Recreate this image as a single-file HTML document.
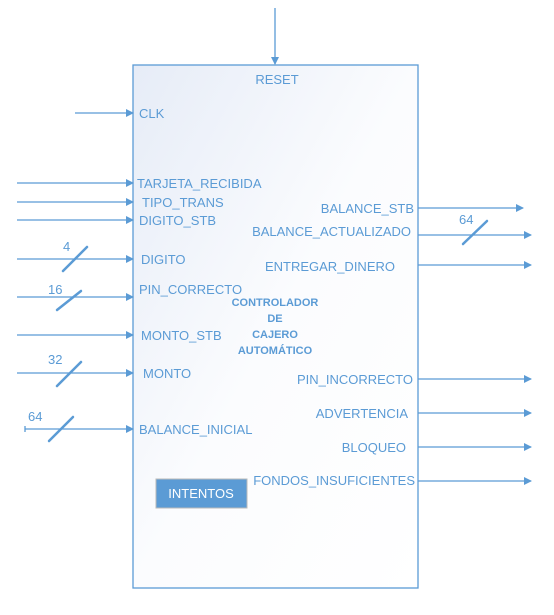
<!DOCTYPE html>
<html><head><meta charset="utf-8"><style>
body{margin:0;background:#fff;width:554px;height:610px;overflow:hidden}
text{font-family:"Liberation Sans",sans-serif;fill:#5b9bd5;font-size:13px}
</style></head><body>
<svg width="554" height="610">
<defs>
<linearGradient id="g" x1="0" y1="0" x2="1" y2="1"><stop offset="0" stop-color="#e6ecf7"/><stop offset="0.5" stop-color="#fbfcfe"/><stop offset="1" stop-color="#fff"/></linearGradient>
<marker id="a" markerWidth="8" markerHeight="8" refX="7" refY="4" orient="auto" markerUnits="userSpaceOnUse"><path d="M0,0 L8,4 L0,8z" fill="#5b9bd5"/></marker>
</defs>
<rect x="133" y="65" width="285" height="523" fill="url(#g)" stroke="#5b9bd5" stroke-width="1.3"/>
<line x1="275" y1="8" x2="275" y2="64" stroke="#5b9bd5" stroke-width="1.3" marker-end="url(#a)"/>
<text x="277" y="84" text-anchor="middle">RESET</text>
<g id="inputs" stroke="#5b9bd5" stroke-width="1.3">
<line x1="75" y1="113" x2="133" y2="113" marker-end="url(#a)"/>
<line x1="17" y1="183" x2="133" y2="183" marker-end="url(#a)"/>
<line x1="17" y1="202" x2="133" y2="202" marker-end="url(#a)"/>
<line x1="17" y1="220" x2="133" y2="220" marker-end="url(#a)"/>
<line x1="17" y1="259" x2="133" y2="259" marker-end="url(#a)"/>
<line x1="17" y1="297" x2="133" y2="297" marker-end="url(#a)"/>
<line x1="17" y1="335" x2="133" y2="335" marker-end="url(#a)"/>
<line x1="17" y1="373" x2="133" y2="373" marker-end="url(#a)"/>
<line x1="25" y1="429" x2="133" y2="429" marker-end="url(#a)"/>
<line x1="25" y1="426" x2="25" y2="432"/>
</g>
<g id="outputs" stroke="#5b9bd5" stroke-width="1.3">
<line x1="418" y1="208" x2="523" y2="208" marker-end="url(#a)"/>
<line x1="418" y1="235" x2="531" y2="235" marker-end="url(#a)"/>
<line x1="418" y1="265" x2="531" y2="265" marker-end="url(#a)"/>
<line x1="418" y1="379" x2="531" y2="379" marker-end="url(#a)"/>
<line x1="418" y1="413" x2="531" y2="413" marker-end="url(#a)"/>
<line x1="418" y1="447" x2="531" y2="447" marker-end="url(#a)"/>
<line x1="418" y1="481" x2="531" y2="481" marker-end="url(#a)"/>
</g>
<g id="slashes" stroke="#5b9bd5" stroke-width="2.5" stroke-linecap="round">
<line x1="63" y1="271" x2="87" y2="247"/>
<line x1="57" y1="310" x2="81" y2="291"/>
<line x1="57" y1="386" x2="81" y2="362"/>
<line x1="49" y1="441" x2="73" y2="417"/>
<line x1="463" y1="244" x2="487" y2="221"/>
</g>
<text x="63" y="251">4</text>
<text x="48" y="294">16</text>
<text x="48" y="364">32</text>
<text x="28" y="421">64</text>
<text x="459" y="224">64</text>
<g>
<text x="139" y="118">CLK</text>
<text x="137" y="188">TARJETA_RECIBIDA</text>
<text x="142" y="207">TIPO_TRANS</text>
<text x="139" y="225">DIGITO_STB</text>
<text x="141" y="264">DIGITO</text>
<text x="139" y="294">PIN_CORRECTO</text>
<text x="141" y="340">MONTO_STB</text>
<text x="143" y="378">MONTO</text>
<text x="139" y="434">BALANCE_INICIAL</text>
</g>
<g text-anchor="end">
<text x="414" y="213">BALANCE_STB</text>
<text x="411" y="236">BALANCE_ACTUALIZADO</text>
<text x="395" y="271">ENTREGAR_DINERO</text>
<text x="413" y="384">PIN_INCORRECTO</text>
<text x="408" y="418">ADVERTENCIA</text>
<text x="406" y="452">BLOQUEO</text>
<text x="415" y="485">FONDOS_INSUFICIENTES</text>
</g>
<g text-anchor="middle" style="font-weight:bold">
<text x="275" y="306" style="font-size:11px">CONTROLADOR</text>
<text x="275" y="322" style="font-size:11px">DE</text>
<text x="275" y="338" style="font-size:11px">CAJERO</text>
<text x="275" y="354" style="font-size:11px">AUTOMÁTICO</text>
</g>
<rect x="156" y="479" width="91" height="29" fill="#5b9bd5" stroke="#b9b9b9" stroke-width="1"/>
<text x="201" y="498" text-anchor="middle" style="fill:#fff;font-size:13px">INTENTOS</text>
</svg>
</body></html>
